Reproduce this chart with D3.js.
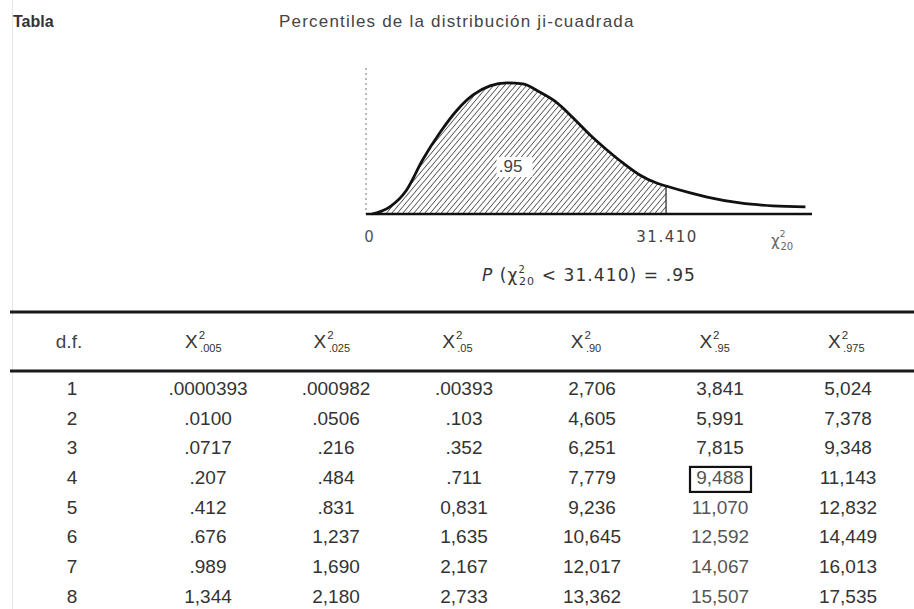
<!DOCTYPE html>
<html>
<head>
<meta charset="utf-8">
<script src="https://cdn.jsdelivr.net/npm/d3@7"></script>
<style>
  body { margin: 0; background: #fff; }
</style>
</head>
<body>
<div id="chart"></div>
<script>
const width = 914;
const height = 609;

// curve of the small figure (chi-square value, height)
const curveX = [0, 1.9, 3.7, 5.4, 7.3, 9.1, 10.8, 12.6, 14.4, 16.1, 17.9, 19.8, 21.5, 23.3, 25.1, 26.8, 28.6, 30.4, 31.41, 34.0, 35.8, 39.3, 42.8, 46.3];
const curveY = [0, 0.0036, 0.0122, 0.0274, 0.0416, 0.0528, 0.0604, 0.0650, 0.0665, 0.0660, 0.0619, 0.0563, 0.0487, 0.0401, 0.0325, 0.0259, 0.0198, 0.0157, 0.0142, 0.0107, 0.0086, 0.0056, 0.0041, 0.0036];
const cutoff = 31.41;

// table
const dfs = [1, 2, 3, 4, 5, 6, 7, 8];
const colKeys = [".005", ".025", ".05", ".90", ".95", ".975"];
const q005 = [".0000393", ".0100", ".0717", ".207", ".412", ".676", ".989", "1,344"];
const q025 = [".000982", ".0506", ".216", ".484", ".831", "1,237", "1,690", "2,180"];
const q05  = [".00393", ".103", ".352", ".711", "0,831", "1,635", "2,167", "2,733"];
const q90  = ["2,706", "4,605", "6,251", "7,779", "9,236", "10,645", "12,017", "13,362"];
const q95  = ["3,841", "5,991", "7,815", "9,488", "11,070", "12,592", "14,067", "15,507"];
const q975 = ["5,024", "7,378", "9,348", "11,143", "12,832", "14,449", "16,013", "17,535"];
const columns = [q005, q025, q05, q90, q95, q975];
const boxed = {df: 4, col: ".95"};

const svg = d3.select("#chart").append("svg")
    .attr("width", width)
    .attr("height", height)
    .style("font-family", "'Liberation Sans', Arial, sans-serif");

// faint scan edge on the left
svg.append("line")
    .attr("x1", 12.5).attr("x2", 12.5)
    .attr("y1", 0).attr("y2", height)
    .attr("stroke", "#e6e6e6");

svg.append("text")
    .attr("x", 13).attr("y", 27)
    .attr("font-size", 16).attr("font-weight", "bold")
    .attr("fill", "#333")
    .text("Tabla");

svg.append("text")
    .attr("x", 279).attr("y", 27)
    .attr("font-size", 17)
    .attr("letter-spacing", 1.2)
    .attr("fill", "#444")
    .text("Percentiles de la distribución ji-cuadrada");

// ---- figure ----
const x = d3.scaleLinear().domain([0, 47]).range([372, 812]);
const y = d3.scaleLinear().domain([0, 0.068]).range([214, 80]);
const pts = curveX.map((v, i) => ({x: v, y: curveY[i]}));

const defs = svg.append("defs");
defs.append("pattern")
    .attr("id", "hatch")
    .attr("patternUnits", "userSpaceOnUse")
    .attr("width", 4.2).attr("height", 4.2)
    .attr("patternTransform", "rotate(40)")
  .append("line")
    .attr("x1", 0).attr("y1", 0)
    .attr("x2", 0).attr("y2", 4.2)
    .attr("stroke", "#222")
    .attr("stroke-width", 1.3);

const area = d3.area()
    .x(d => x(d.x))
    .y0(y(0))
    .y1(d => y(d.y))
    .curve(d3.curveMonotoneX);

svg.append("path")
    .datum(pts.filter(d => d.x <= cutoff))
    .attr("d", area)
    .attr("fill", "url(#hatch)");

// cut line
svg.append("line")
    .attr("x1", x(cutoff)).attr("x2", x(cutoff))
    .attr("y1", y(0)).attr("y2", y(curveY[curveX.indexOf(cutoff)]))
    .attr("stroke", "#222").attr("stroke-width", 1.2);

// vertical dashed axis
svg.append("line")
    .attr("x1", x(0) - 6).attr("x2", x(0) - 6)
    .attr("y1", 68).attr("y2", y(0))
    .attr("stroke", "#777")
    .attr("stroke-dasharray", "2,3");

// horizontal axis
svg.append("line")
    .attr("x1", x(0) - 6).attr("x2", x(47))
    .attr("y1", y(0)).attr("y2", y(0))
    .attr("stroke", "#111").attr("stroke-width", 2.4);

svg.append("path")
    .datum(pts)
    .attr("d", d3.line().x(d => x(d.x)).y(d => y(d.y)).curve(d3.curveMonotoneX))
    .attr("fill", "none")
    .attr("stroke", "#111")
    .attr("stroke-width", 2.8);

// .95 label on white patch
svg.append("rect")
    .attr("x", x(13.3)).attr("y", 157)
    .attr("width", 36).attr("height", 20)
    .attr("fill", "#fff");
svg.append("text")
    .attr("x", x(14.8)).attr("y", 172)
    .attr("text-anchor", "middle")
    .attr("font-size", 17)
    .attr("fill", "#444")
    .text(".95");

const figFont = "'DejaVu Sans', sans-serif";
svg.append("text")
    .attr("x", x(0) - 3).attr("y", 242)
    .attr("text-anchor", "middle")
    .attr("font-family", figFont).attr("font-size", 15)
    .attr("fill", "#555")
    .text("0");

svg.append("text")
    .attr("x", x(cutoff) + 1).attr("y", 242)
    .attr("text-anchor", "middle")
    .attr("font-family", figFont).attr("font-size", 15)
    .attr("letter-spacing", 1.5)
    .attr("fill", "#444")
    .text("31.410");

const chiLab = svg.append("text")
    .attr("x", 771).attr("y", 246)
    .attr("font-family", figFont).attr("font-size", 15)
    .attr("fill", "#666");
chiLab.append("tspan").text("χ");
chiLab.append("tspan").attr("font-size", 9).attr("dy", -9).text("2");
chiLab.append("tspan").attr("font-size", 10).attr("dx", -5).attr("dy", 13).text("20");

const pLab = svg.append("text")
    .attr("x", 589).attr("y", 281)
    .attr("text-anchor", "middle")
    .attr("font-family", figFont).attr("font-size", 17)
    .attr("letter-spacing", 1.1)
    .attr("fill", "#333");
pLab.append("tspan").attr("font-style", "italic").text("P");
pLab.append("tspan").text(" (χ");
pLab.append("tspan").attr("font-size", 10).attr("dy", -8).text("2");
pLab.append("tspan").attr("font-size", 11).attr("dx", -7).attr("dy", 12).text("20");
pLab.append("tspan").attr("dy", -4).text(" < 31.410) = .95");

// ---- table ----
const headX = d3.scalePoint().domain(colKeys).range([185, 828]);
const valX = d3.scalePoint().domain(colKeys).range([208, 848]);
const rowY = d3.scalePoint().domain(dfs).range([395, 602.5]);
const dfX = 72;

[312, 371].forEach(ly => {
  svg.append("line")
      .attr("x1", 10).attr("x2", width)
      .attr("y1", ly).attr("y2", ly)
      .attr("stroke", "#1a1a1a").attr("stroke-width", 2.8);
});

const tfont = 19;
svg.append("text")
    .attr("x", 69).attr("y", 348)
    .attr("text-anchor", "middle")
    .attr("font-size", tfont)
    .attr("fill", "#444")
    .text("d.f.");

const heads = svg.append("g").selectAll("text")
  .data(colKeys)
  .join("text")
    .attr("x", d => headX(d)).attr("y", 348)
    .attr("font-size", tfont)
    .attr("fill", "#333");
heads.append("tspan").text("X");
heads.append("tspan").attr("font-size", 11.5).attr("dx", 1).attr("dy", -9).text("2");
heads.append("tspan").attr("font-size", 11).attr("dx", -5).attr("dy", 13).text(d => d);

svg.append("g").selectAll("text")
  .data(dfs)
  .join("text")
    .attr("x", dfX).attr("y", d => rowY(d))
    .attr("text-anchor", "middle")
    .attr("font-size", tfont)
    .attr("fill", "#333")
    .text(d => d);

const cells = [];
colKeys.forEach((c, j) => dfs.forEach((df, i) => cells.push({col: c, df: df, v: columns[j][i]})));

svg.append("g").selectAll("text")
  .data(cells)
  .join("text")
    .attr("x", d => valX(d.col)).attr("y", d => rowY(d.df))
    .attr("text-anchor", "middle")
    .attr("font-size", tfont)
    .attr("fill", d => (d.col === boxed.col && d.df >= boxed.df) ? "#555" : "#333")
    .text(d => d.v);

svg.append("rect")
    .attr("x", valX(boxed.col) - 30).attr("y", rowY(boxed.df) - 17)
    .attr("width", 61).attr("height", 25)
    .attr("fill", "none")
    .attr("stroke", "#111").attr("stroke-width", 2.2);
</script>
</body>
</html>
